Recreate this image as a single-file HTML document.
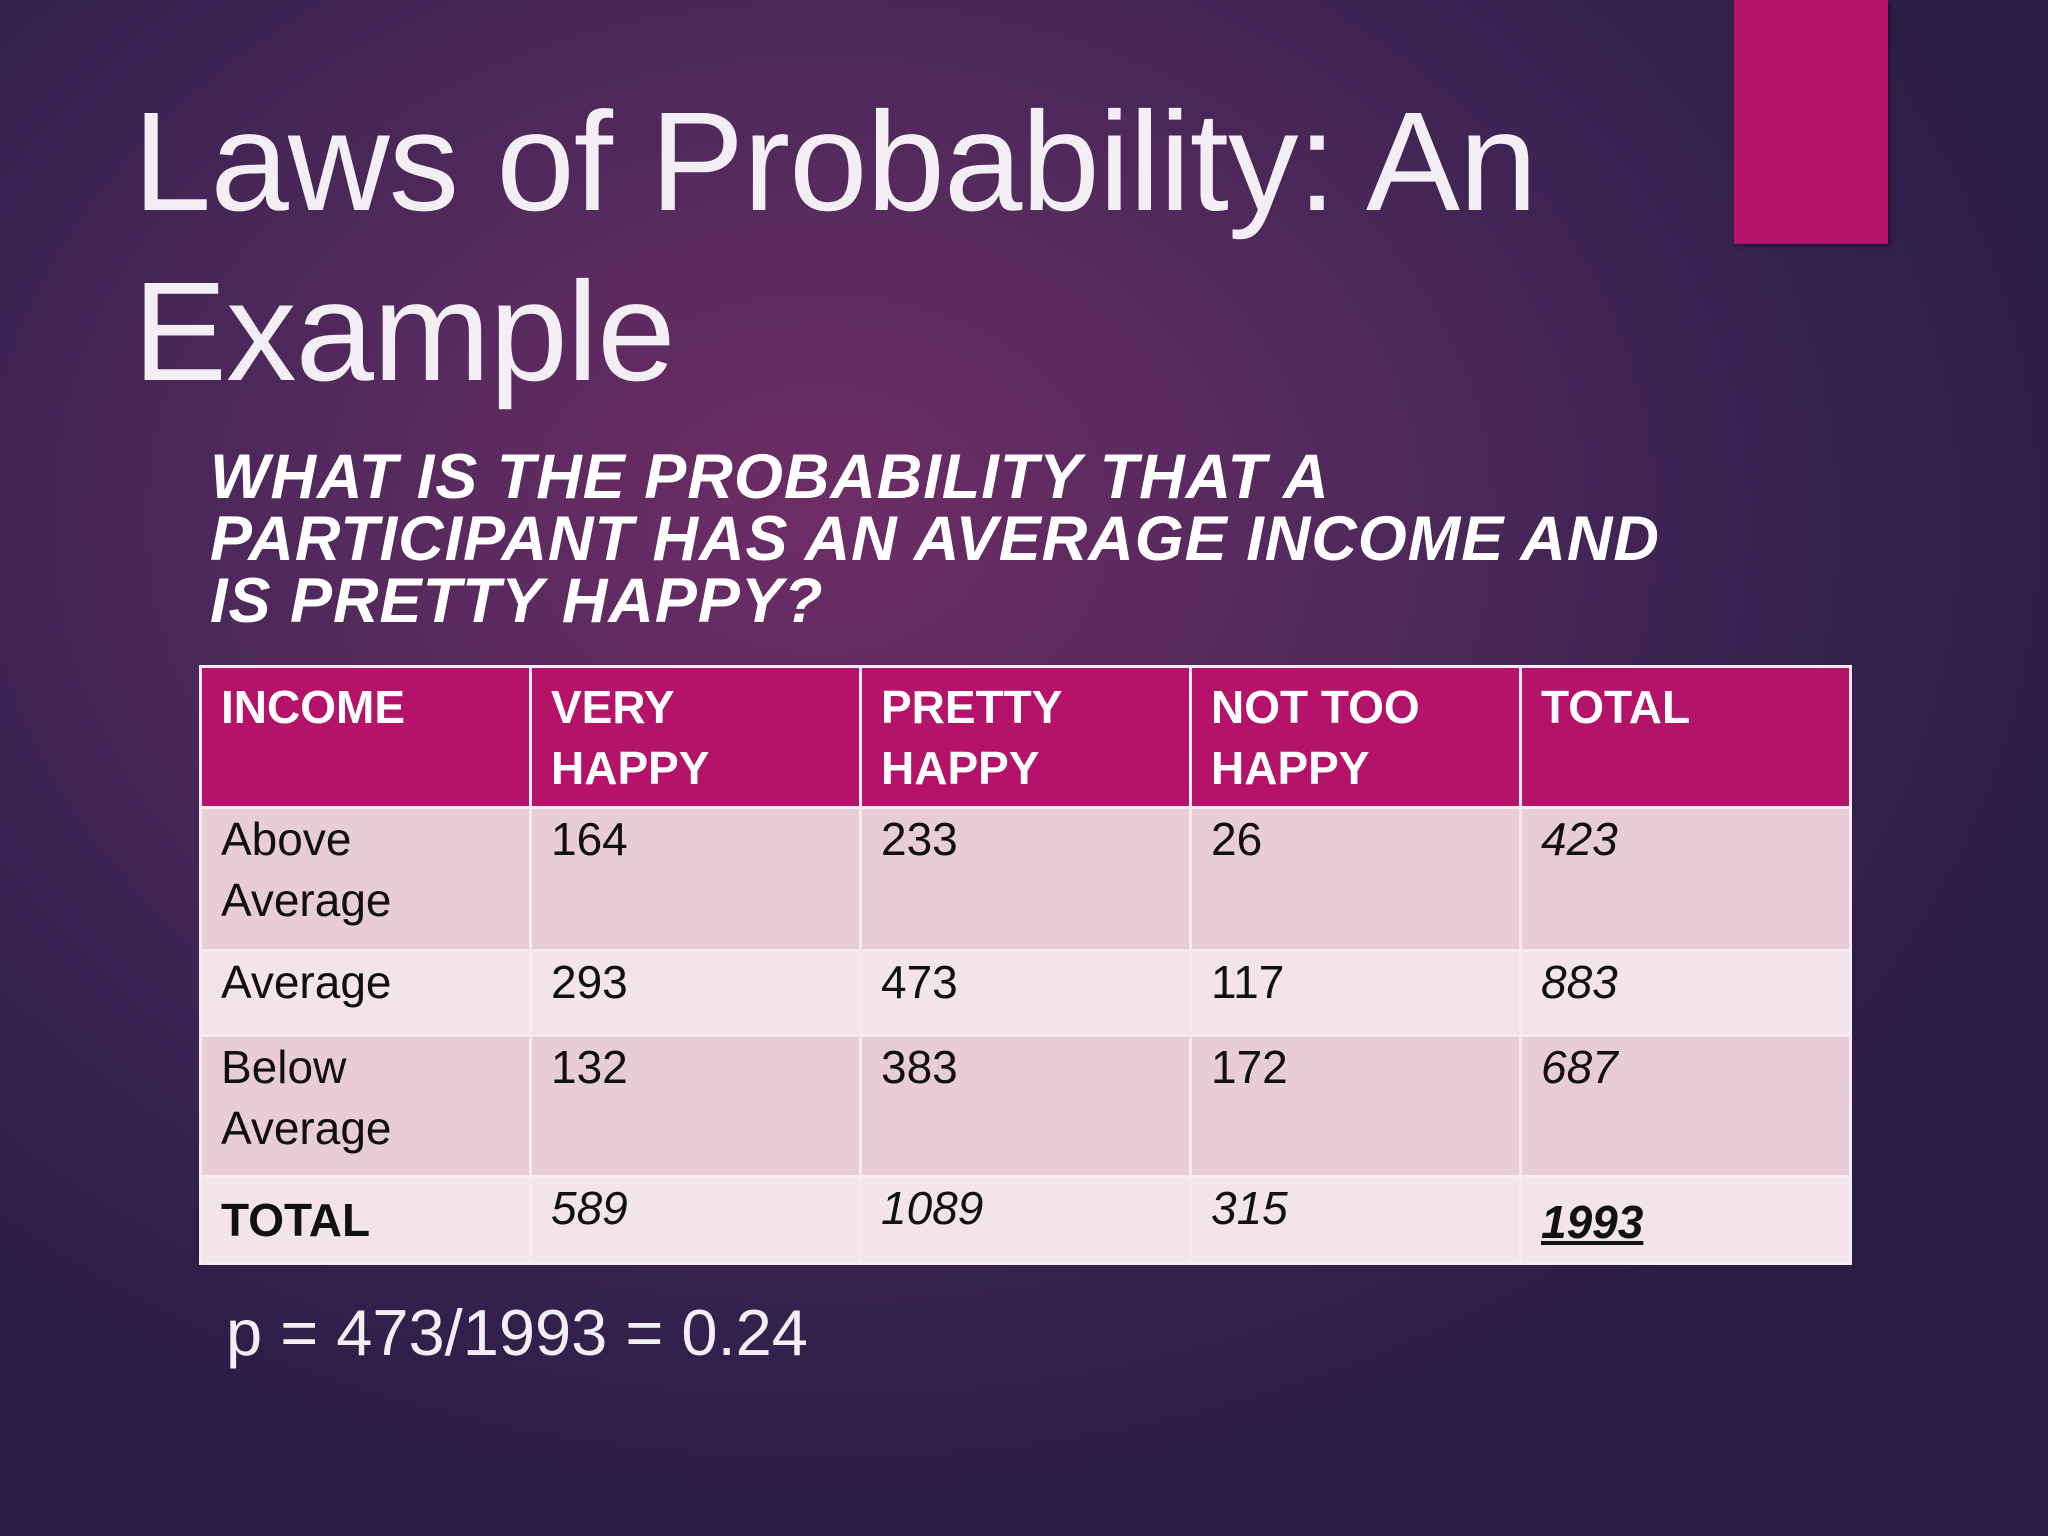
<!DOCTYPE html>
<html><head><meta charset="utf-8">
<style>
html,body{margin:0;padding:0}
body{width:2048px;height:1536px;overflow:hidden;position:relative;font-family:"Liberation Sans",sans-serif;
background:radial-gradient(ellipse 1300px 1000px at 820px 520px,#6e2c66 0%,#562a5e 35%,#3a2352 70%,#2a1d45 100%);}
.t{position:absolute;color:#f2eef4;white-space:nowrap}
#title{left:133px;top:76px;font-size:141px;line-height:170px;font-weight:normal;letter-spacing:-1px}
#accent{position:absolute;left:1734px;top:0;width:154px;height:244px;background:#b5136a;box-shadow:2px 2px 4px rgba(0,0,0,.4)}
#q{left:210px;top:446px;font-size:63px;line-height:62px;font-weight:bold;font-style:italic;color:#fff;letter-spacing:1px}
table{position:absolute;left:199px;top:665px;border-collapse:collapse;table-layout:fixed;width:1650px}
td{border:3px solid #f4eaf0;width:330px;vertical-align:top;padding:0 0 0 19px;font-size:46px;line-height:61px;color:#111;box-sizing:border-box}
tr.h td{background:#b5136a;color:#fff;font-weight:bold;height:141px;padding-top:9px}
tr.a td{background:#e8ccd6}
tr.b td{background:#f2e4ea}
.i{font-style:italic}
#p{left:226px;top:1293px;font-size:65px;line-height:80px}
</style></head><body>
<div id="accent"></div>
<div class="t" id="title">Laws of Probability: An<br>Example</div>
<div class="t" id="q">WHAT IS THE PROBABILITY THAT A<br>PARTICIPANT HAS AN AVERAGE INCOME AND<br>IS PRETTY HAPPY?</div>
<table>
<tr class="h"><td>INCOME</td><td>VERY<br>HAPPY</td><td>PRETTY<br>HAPPY</td><td>NOT TOO<br>HAPPY</td><td>TOTAL</td></tr>
<tr class="a" style="height:143px"><td>Above<br>Average</td><td>164</td><td>233</td><td>26</td><td class="i">423</td></tr>
<tr class="b" style="height:85px"><td>Average</td><td>293</td><td>473</td><td>117</td><td class="i">883</td></tr>
<tr class="a" style="height:141px"><td>Below<br>Average</td><td>132</td><td>383</td><td>172</td><td class="i">687</td></tr>
<tr class="b" style="height:87px"><td style="font-weight:bold;padding-top:12px">TOTAL</td><td class="i" style="padding-top:0">589</td><td class="i">1089</td><td class="i">315</td><td class="i" style="font-weight:bold;text-decoration:underline;padding-top:14px">1993</td></tr>
</table>
<div class="t" id="p">p = 473/1993 = 0.24</div>
</body></html>
